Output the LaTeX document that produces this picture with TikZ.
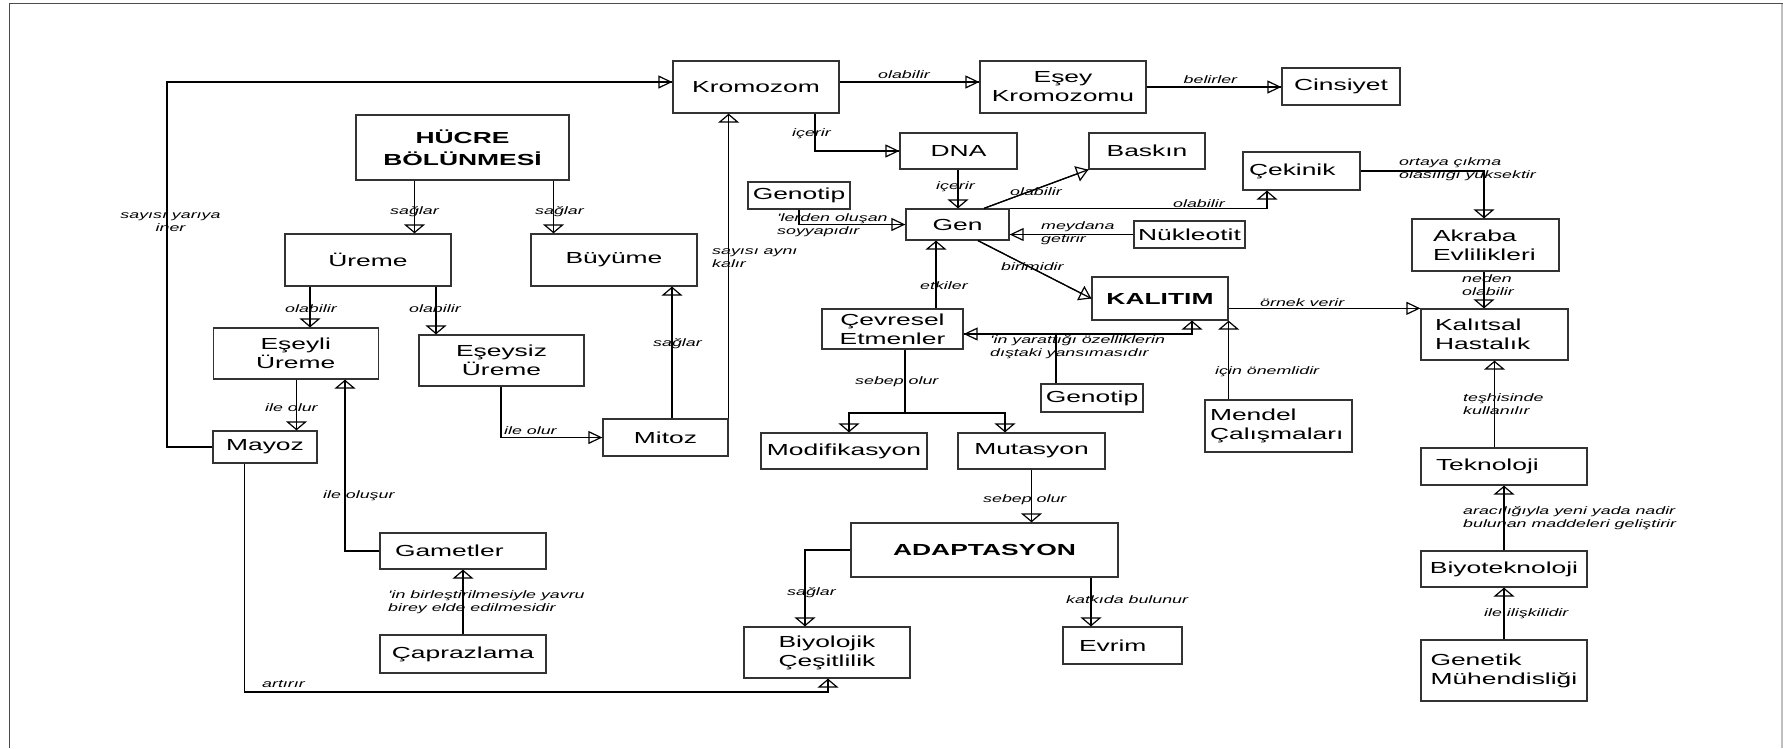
\documentclass[tikz,border=0pt]{standalone}
\usepackage{fontspec}
\setmainfont{Liberation Sans}
\newfontfamily\genis[FakeStretch=1.65]{Liberation Sans}
\usetikzlibrary{arrows.meta}

\newcommand{\kutuyazi}{\genis\fontsize{16}{19}\selectfont}
\newcommand{\etiket}{\genis\itshape\fontsize{10.8}{12.8}\selectfont}

\begin{document}
\begin{tikzpicture}[x=1pt, y=-1pt,
  kav/.style = {draw=black!80, line width=1.3pt, inner sep=0pt, align=center, font=\kutuyazi},
  solkav/.style = {kav, align=left},
  kalin/.style = {font=\genis\bfseries\fontsize{16}{22}\selectfont},
  lbl/.style = {font=\etiket, inner sep=0pt, anchor=west, align=left},
  link/.style = {draw, line width=1.2pt, postaction={draw,-}},
  varr/.style = {link, -{Triangle[open, length=9pt, width=21pt]}},
  harr/.style = {link, -{Triangle[open, length=14pt, width=13pt]}},
  darr/.style = {link, -{Triangle[open, length=12pt, width=16pt]}}]
\useasboundingbox (0,0) rectangle (1783,748);
% frame
\draw[black!70, line width=1.2pt] (9.5,748) -- (9.5,3.5) -- (1783,3.5);
\draw[black!25, line width=1.5pt] (1782,3.5) -- (1782,748);

% concepts, top row
\node[kav, minimum width=166pt, minimum height=52pt] (krom) at (756,87) {Kromozom};
\node[kav, minimum width=166pt, minimum height=52pt] (esey) at (1063,87) {Eşey\\Kromozomu};
\node[kav, minimum width=118pt, minimum height=37pt] (cins) at (1341,86.5) {Cinsiyet};
\node[kav, kalin, minimum width=213pt, minimum height=65pt] (hucre) at (462.5,147.5) {HÜCRE\\BÖLÜNMESİ};
\node[kav, minimum width=117pt, minimum height=36pt] (dna) at (958.5,151) {DNA};
\node[kav, minimum width=116pt, minimum height=36pt] (bask) at (1147,151) {Baskın};
\node[solkav, minimum height=38pt, text width=105pt, inner xsep=6pt] (ceki) at (1301.5,171) {Çekinik};
\node[kav, minimum width=102pt, minimum height=27pt] (gtp1) at (799,195.5) {Genotip};
\node[kav, minimum width=103pt, minimum height=31pt] (gen) at (957.5,224.5) {Gen};
\node[kav, minimum width=111pt, minimum height=27pt] (nukl) at (1189.5,234.5) {Nükleotit};
\node[solkav, minimum height=52pt, text width=105pt, inner xsep=21pt] (akra) at (1485.5,245) {Akraba\\Evlilikleri};
\node[kav, minimum width=166pt, minimum height=52pt] (urem) at (368,260) {Üreme};
\node[kav, minimum width=166pt, minimum height=52pt] (buyu) at (614,260) {Büyüme};
\node[kav, kalin, minimum width=136pt, minimum height=43pt] (kali) at (1160,298.5) {KALITIM};
\node[solkav, minimum height=51pt, text width=119pt, inner xsep=14pt] (kalh) at (1494.5,334.5) {Kalıtsal\\Hastalık};
\node[kav, minimum width=141pt, minimum height=40pt] (cevr) at (892.5,329) {Çevresel\\Etmenler};
% middle
\node[kav, minimum width=165pt, minimum height=51pt] (esyl) at (295.75,353.5) {Eşeyli\\Üreme};
\node[kav, minimum width=165pt, minimum height=51pt] (esyz) at (501.5,360.5) {Eşeysiz\\Üreme};
\node[kav, minimum width=102pt, minimum height=28pt] (gtp2) at (1092,398) {Genotip};
\node[solkav, minimum height=52pt, text width=137pt, inner xsep=5pt] (mend) at (1278.5,426) {Mendel\\Çalışmaları};
\node[kav, minimum width=125pt, minimum height=37pt] (mito) at (665.5,437.5) {Mitoz};
\node[kav, minimum width=104pt, minimum height=32pt] (mayo) at (265,447) {Mayoz};
\node[kav, minimum width=166pt, minimum height=36pt] (modi) at (844,451) {Modifikasyon};
\node[kav, minimum width=147pt, minimum height=36pt] (muta) at (1031.5,451) {Mutasyon};
\node[solkav, minimum height=37pt, text width=136pt, inner xsep=15pt] (tekn) at (1504,466.5) {Teknoloji};
% bottom
\node[kav, kalin, minimum width=267pt, minimum height=54pt] (adap) at (984.5,550) {ADAPTASYON};
\node[solkav, minimum height=36pt, text width=136pt, inner xsep=15pt] (game) at (463,551) {Gametler};
\node[kav, minimum width=166pt, minimum height=36pt] (biyt) at (1504,569) {Biyoteknoloji};
\node[kav, minimum width=166pt, minimum height=51pt] (biyc) at (827,652.5) {Biyolojik\\Çeşitlilik};
\node[solkav, minimum height=37pt, text width=87pt, inner xsep=16pt] (evri) at (1122.5,645.5) {Evrim};
\node[kav, minimum width=166pt, minimum height=38pt] (capr) at (463,654) {Çaprazlama};
\node[solkav, minimum height=61pt, text width=147pt, inner xsep=9.5pt] (gene) at (1504,670.5) {Genetik\\Mühendisliği};

% links, left part
\draw[harr] (mayo.west) -- (mayo.west -| 167,0) |- (krom.west |- 0,82);
\draw[harr] (krom.east |- 0,82) -- (esey.west |- 0,82);
\draw[harr] (esey.east) -- (esey.east -| cins.west);
\draw[varr] (hucre.south -| 414.5,0) -- (urem.north -| 414.5,0);
\draw[varr] (hucre.south -| 553.5,0) -- (buyu.north -| 553.5,0);
\draw[varr] (urem.south -| 310,0) -- (esyl.north -| 310,0);
\draw[varr] (urem.south -| 436,0) -- (esyz.north -| 436,0);
\draw[varr] (esyl.south -| 296.5,0) -- (mayo.north -| 296.5,0);
\draw[varr] (game.west) -| (esyl.south -| 345,0);
\draw[varr] (capr.north) -- (game.south);
\draw[harr] (esyz.south -| 501,0) |- (mito.west);
\draw[varr] (mito.north -| 672,0) -- (buyu.south -| 672,0);
\draw[varr] (mito.north east) -- (krom.south -| mito.north east);
\coordinate (art) at (244.5,692);
\draw[varr] (mayo.south -| art) -- (art) -| (biyc.south -| 828,0);

% links, gene part
\draw[harr] (krom.south -| 815,0) |- (dna.west);
\draw[varr] (dna.south -| 958,0) -- (gen.north -| 958,0);
\draw[harr] (gtp1.south) |- (gen.west);
\draw[darr] (gen.north -| 984,0) -- (bask.south west);
\draw[varr] (gen.north east) -| (ceki.south -| 1267,0);
\draw[harr] (nukl.west) -- (gen.east |- nukl.west);
\draw[darr] (gen.south -| 978,0) -- (kali.west);
\draw[varr] (cevr.north -| 936,0) -- (gen.south -| 936,0);
\draw[harr] (kali.east |- kalh.north west) -- (kalh.north west);
\draw[varr] (ceki.east) -| (akra.north -| 1484,0);
\draw[varr] (akra.south -| 1484,0) -- (kalh.north -| 1484,0);
\draw[varr] (kalh.south |- tekn.north) -- (kalh.south);
\draw[varr] (biyt.north) -- (tekn.south);
\draw[varr] (gene.north) -- (biyt.south);
\draw[varr] (kali.south east |- mend.north) -- (kali.south east);
\coordinate (yar) at (1056,334); % Genotip joins here
\draw[link] (gtp2.north -| yar) -- (yar);
\draw[harr] (yar) -- (cevr.east |- yar);
\draw[varr] (yar) -| (kali.south -| 1192,0);
\coordinate (seb) at (905,413);
\draw[link] (cevr.south -| seb) -- (seb);
\draw[varr] (seb) -| (modi.north -| 849,0);
\draw[varr] (seb) -| (muta.north -| 1005,0);
\draw[varr] (muta.south) -- (adap.north -| muta.south);
\draw[varr] (adap.west) -| (biyc.north -| 805,0);
\draw[varr] (adap.south -| 1091,0) -- (evri.north -| 1091,0);

% labels
\node[lbl] (e1) at (878,75) {olabilir};
\node[lbl] (e2) at (1183.5,80) {belirler};
\node[lbl] (e3) at (792,134) {içerir};
\node[lbl] (e4) at (936,187) {içerir};
\node[lbl] (e5) at (1010,192) {olabilir};
\node[lbl] (e6) at (1173,204) {olabilir};
\node[lbl] (e7) at (1399,169) {ortaya çıkma\\olasılığı yüksektir};
\node[lbl] (e8) at (777,225.5) {'lerden oluşan\\soyyapıdır};
\node[lbl] (e9) at (1041,233.5) {meydana\\getirir};
\node[lbl, anchor=center, align=center] (e10) at (170.5,222.5) {sayısı yarıya\\iner};
\node[lbl] (e11) at (390,212) {sağlar};
\node[lbl] (e12) at (535,212) {sağlar};
\node[lbl] (e13) at (712,258.5) {sayısı aynı\\kalır};
\node[lbl] (e14) at (1001,267) {birimidir};
\node[lbl] (e15) at (920,286) {etkiler};
\node[lbl] (e16) at (1462,285.5) {neden\\olabilir};
\node[lbl] (e17) at (1260,303) {örnek verir};
\node[lbl] (e18) at (285,309) {olabilir};
\node[lbl] (e19) at (409,309) {olabilir};
\node[lbl] (e20) at (990,347.5) {'in yarattığı özelliklerin\\dıştaki yansımasıdır};
\node[lbl] (e21) at (653,344) {sağlar};
\node[lbl] (e22) at (1215,372) {için önemlidir};
\node[lbl] (e23) at (855,382) {sebep olur};
\node[lbl] (e24) at (1463,404) {teşhisinde\\kullanılır};
\node[lbl] (e25) at (265,408) {ile olur};
\node[lbl] (e26) at (504,431) {ile olur};
\node[lbl] (e27) at (323,496) {ile oluşur};
\node[lbl] (e28) at (983,500) {sebep olur};
\node[lbl] (e29) at (1463,518.5) {aracılığıyla yeni yada nadir\\bulunan maddeleri geliştirir};
\node[lbl] (e30) at (787,593) {sağlar};
\node[lbl] (e31) at (388,602.5) {'in birleştirilmesiyle yavru\\birey elde edilmesidir};
\node[lbl] (e32) at (1066,600) {katkıda bulunur};
\node[lbl] (e33) at (1484,614) {ile ilişkilidir};
\node[lbl] (e34) at (262,684) {artırır};
\end{tikzpicture}
\end{document}
